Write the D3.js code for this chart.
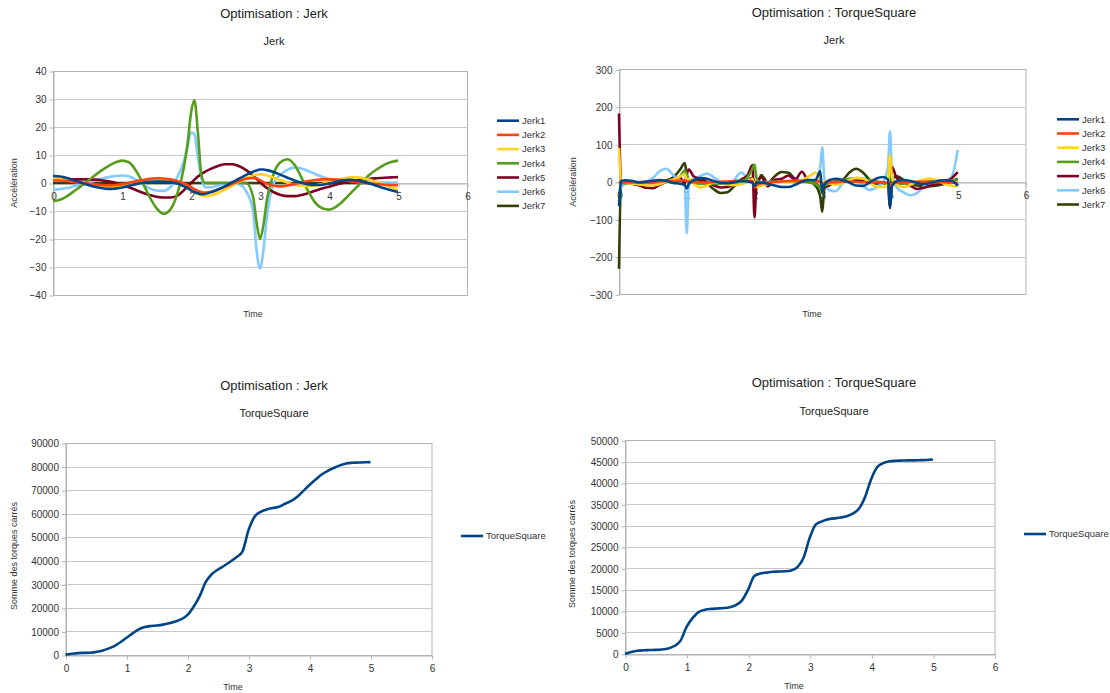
<!DOCTYPE html>
<html lang="fr">
<head>
<meta charset="UTF-8">
<title>Optimisation</title>
<style>
  html, body { margin:0; padding:0; background:#fff; }
  svg { display:block; font-family:"Liberation Sans", Arial, sans-serif; }
  .axis path, .axis line { stroke:#b3b3b3; }
  .axis text { fill:#333; font-size:10px; }
  .grid line { stroke:#c8c8c8; stroke-width:1; }
</style>
</head>
<body>
<script src="https://cdn.jsdelivr.net/npm/d3@7"></script>
<script>
var W = 1110, H = 693;

var seriesNames = ['Jerk1', 'Jerk2', 'Jerk3', 'Jerk4', 'Jerk5', 'Jerk6', 'Jerk7'];
var seriesColors = ['#004586', '#ff420e', '#ffd320', '#579d1c', '#7e0021', '#83caff', '#314004'];
var xTicks = [0, 1, 2, 3, 4, 5, 6];
var yTicksJerkA = [-40, -30, -20, -10, 0, 10, 20, 30, 40];
var yTicksJerkB = [-300, -200, -100, 0, 100, 200, 300];
var yTicksTorqueA = [0, 10000, 20000, 30000, 40000, 50000, 60000, 70000, 80000, 90000];
var yTicksTorqueB = [0, 5000, 10000, 15000, 20000, 25000, 30000, 35000, 40000, 45000, 50000];

// optimisation Jerk : jerk des 7 articulations
var timeA = [0, 0.1, 0.2, 0.3, 0.4, 0.5, 0.6, 0.7, 0.8, 0.9, 1.0, 1.1, 1.2, 1.3, 1.4, 1.5, 1.6, 1.7, 1.8, 1.9, 1.95,
  2.0, 2.05, 2.1, 2.15, 2.2, 2.3, 2.4, 2.5, 2.6, 2.7, 2.8, 2.9, 2.95, 3.0, 3.05, 3.1, 3.2, 3.3, 3.4, 3.5, 3.6,
  3.7, 3.8, 3.9, 4.0, 4.1, 4.2, 4.3, 4.4, 4.5, 4.6, 4.7, 4.8, 4.9, 5.0];
var jerkA1 = [2.5, 2.3, 1.8, 1.0, 0.2, -0.6, -1.3, -1.8, -2.1, -2.0, -1.6, -1.0, -0.4, 0.1, 0.4, 0.5, 0.5, 0.3, -0.2, -1.2, -1.8,
  -2.6, -3.2, -3.7, -4.0, -3.9, -3.2, -2.2, -1.0, 0.3, 1.6, 2.9, 4.0, 4.5, 4.8, 4.8, 4.6, 3.9, 2.9, 1.9, 0.9, 0.1,
  -0.5, -0.7, -0.6, -0.2, 0.4, 0.9, 1.1, 0.9, 0.4, -0.3, -1.1, -1.9, -2.6, -3.2];
var jerkA2 = [1.0, 0.9, 0.7, 0.4, 0.1, -0.2, -0.5, -0.7, -0.8, -0.7, -0.4, 0.1, 0.6, 1.1, 1.5, 1.7, 1.6, 1.3, 0.7, -0.2, -0.8,
  -1.5, -2.2, -2.8, -3.2, -3.4, -3.1, -2.3, -1.3, -0.3, 0.7, 1.5, 1.8, 1.6, 1.0, 0.3, -0.3, -1.0, -1.2, -0.9, -0.4, 0.2,
  0.7, 1.1, 1.3, 1.3, 1.2, 1.0, 0.7, 0.4, 0.1, -0.2, -0.4, -0.6, -0.7, -0.8];
var jerkA3 = [1.6, 1.4, 1.0, 0.5, 0.0, -0.5, -1.0, -1.3, -1.5, -1.4, -1.0, -0.4, 0.2, 0.7, 1.1, 1.2, 1.1, 0.7, 0.0, -1.0, -1.7,
  -2.5, -3.3, -4.0, -4.5, -4.7, -4.4, -3.5, -2.3, -0.9, 0.5, 1.8, 2.7, 3.0, 3.1, 3.0, 2.7, 1.9, 1.0, 0.1, -0.6, -1.0,
  -1.1, -0.9, -0.4, 0.3, 1.0, 1.6, 2.0, 2.0, 1.7, 1.1, 0.3, -0.6, -1.5, -2.4];
var jerkA4 = [-6.5, -6.0, -4.8, -3.0, -1.2, 0.7, 2.6, 4.4, 6.0, 7.3, 8.0, 7.4, 4.5, 0.0, -5.0, -9.0, -11.0, -9.5, -4.0, 6.0, 14.0,
  25.0, 29.5, 18.0, 3.0, 0, 0, 0, 0, 0, 0, 0, -5.0, -14.0, -20.0, -15.0, -6.0, 3.5, 7.5, 8.5, 6.5, 2.0,
  -3.0, -7.0, -9.0, -9.5, -8.5, -6.5, -4.0, -1.5, 1.0, 3.2, 5.0, 6.5, 7.5, 8.0];
var jerkA5 = [1.3, 1.3, 1.3, 1.3, 1.3, 1.3, 1.2, 1.0, 0.6, 0.1, -0.6, -1.5, -2.5, -3.5, -4.3, -4.9, -5.2, -5.2, -4.6, -2.5, -1.3,
  0.0, 1.2, 2.3, 3.2, 4.0, 5.2, 6.2, 6.7, 6.7, 6.0, 4.6, 2.6, 1.5, 0.3, -0.8, -1.8, -3.3, -4.3, -4.7, -4.7, -4.3,
  -3.6, -2.8, -2.0, -1.3, -0.6, 0.0, 0.5, 0.9, 1.2, 1.5, 1.7, 1.9, 2.0, 2.1];
var jerkA6 = [-2.5, -2.2, -1.8, -1.2, -0.6, 0.0, 0.8, 1.5, 2.1, 2.5, 2.7, 2.4, 1.2, -0.5, -1.9, -2.7, -2.8, -1.5, 2.0, 8.0, 13.0,
  18.0, 17.5, 9.0, 2.0, -1.5, -1.5, -0.8, -0.3, 0.0, -0.5, -3.0, -10.0, -24.0, -30.5, -24.0, -12.0, 0.0, 3.0, 4.8, 5.5, 5.2,
  4.3, 3.2, 2.2, 1.4, 0.9, 0.6, 0.5, 0.4, 0.3, 0.2, 0.1, 0.0, 0.0, 0.0];
var jerkA7 = [0, 0, 0, 0, 0, 0, 0, 0, 0, 0, 0, 0, 0, 0, 0, 0, 0, 0, 0, 0, 0,
  0, 0, 0, 0, 0, 0, 0, 0, 0, 0, 0, 0, 0, 0, 0, 0, 0, 0, 0, 0, 0,
  0, 0, 0, 0, 0, 0, 0, 0, 0, 0, 0, 0, 0, 0];

// optimisation TorqueSquare : jerk des 7 articulations
var timeB = [0, 0.03, 0.1, 0.2, 0.3, 0.4, 0.5, 0.6, 0.7, 0.8, 0.9, 0.97, 1.0, 1.03, 1.1, 1.2, 1.3, 1.4, 1.5, 1.6,
  1.7, 1.8, 1.9, 1.97, 2.0, 2.03, 2.1, 2.2, 2.3, 2.4, 2.5, 2.6, 2.7, 2.8, 2.9, 2.97, 3.0, 3.03, 3.1, 3.2,
  3.3, 3.4, 3.5, 3.6, 3.7, 3.8, 3.9, 3.97, 4.0, 4.03, 4.1, 4.2, 4.3, 4.4, 4.5, 4.6, 4.7, 4.8, 4.9, 5.0];
var jerkB1 = [-65, 2, 4, 2, -2, 0, 3, 5, 2, -3, -5, -8, -18, -5, 4, 10, 8, 2, -3, -4,
  -1, 2, 1, -2, -12, -3, -2, -5, -10, -14, -14, -8, 0, 5, 5, 28, -30, -8, 4, 8,
  5, -2, -10, -11, -2, 9, 13, 6, -67, -12, 2, 5, 2, -3, -6, -3, 2, 4, 3, -10];
var jerkB2 = [0, -3, -2, -2, -1, 0, 0, 1, 2, 2, 3, 4, 2, 0, -1, -2, -2, -1, 0, 1,
  2, 3, 3, 2, -15, -8, -4, -2, 0, 1, 2, 3, 3, 3, 2, 0, -8, -3, -2, -1,
  0, 0, 0, -1, -1, -1, -2, -3, -12, -4, -2, -1, 0, 0, 0, 0, -1, -1, -2, -3];
var jerkB3 = [90, 0, -3, -5, -7, -9, -10, -6, 0, 6, 14, 20, 5, 8, -5, -15, -10, -2, -3, -8,
  -9, -6, -1, 8, -8, -14, -10, -6, -2, 0, 1, 2, 5, 14, 24, 5, -20, 2, -4, -8,
  -3, 4, 11, 9, -2, -13, -14, -5, 72, 12, -8, -14, -8, 0, 6, 9, 3, -5, -10, -12];
var jerkB4 = [0, -2, -4, -5, -5, -4, -3, -2, 0, 4, 14, 30, 20, 2, -3, -5, -5, -5, -5, -5,
  -4, 0, 12, 35, 46, 10, -8, -3, 0, 1, 1, 1, 0, -2, -6, -18, -30, -12, -4, 0,
  4, 8, 10, 8, 4, 0, -4, -10, 18, 0, -5, -5, -3, -1, 0, 2, 3, 4, 4, 4];
var jerkB5 = [182, 0, -3, -6, -10, -16, -17, -8, 0, 6, 12, -5, 20, 33, 15, 8, 0, -10, -15, -14,
  -5, 6, 18, 45, -95, -5, 12, -12, 5, 8, 17, 6, 27, 0, -5, -15, -30, -15, -10, 0,
  3, 4, 3, 2, 1, 0, -2, -5, -70, 40, 10, 0, -10, -19, -16, -10, -6, -2, 8, 26];
var jerkB6 = [-22, -15, -5, 0, 0, 1, 10, 28, 35, 18, 0, -10, -138, -10, 4, 15, 22, 12, 0, -9,
  5, 25, 8, -5, -18, -5, 0, 0, 0, 0, 0, 0, 0, 0, -5, 40, 93, 10, -22, -25,
  -5, 6, 6, -10, -22, -15, 0, 40, 135, 20, -15, -28, -36, -30, -12, 0, 3, 4, 10, 85];
var jerkB7 = [-232, 0, 2, 0, -2, -2, 0, 2, 4, 12, 32, 50, 20, 5, 5, 3, -5, -20, -30, -28,
  -12, 0, 5, 10, 0, -15, 18, -2, 15, 26, 24, 8, 2, 0, -10, -40, -80, -20, 0, 0,
  5, 25, 35, 25, 5, -5, -3, -8, -10, 5, 15, 5, -5, -10, -12, -12, -10, -6, 0, 8];

// somme cumulée des couples au carré
var timeT = [0, 0.1, 0.2, 0.3, 0.4, 0.5, 0.6, 0.7, 0.8, 0.9, 1.0, 1.1, 1.2, 1.3, 1.4, 1.5, 1.6, 1.7, 1.8, 1.9,
  2.0, 2.1, 2.2, 2.3, 2.4, 2.5, 2.6, 2.7, 2.8, 2.9, 3.0, 3.1, 3.2, 3.3, 3.4, 3.5, 3.6, 3.7, 3.8, 3.9,
  4.0, 4.1, 4.2, 4.3, 4.4, 4.5, 4.6, 4.7, 4.8, 4.9, 5.0];
var torqueA = [200, 500, 800, 900, 950, 1300, 1800, 2700, 3800, 5400, 7300, 9200, 10900, 11900, 12300, 12500, 12900, 13500, 14200, 15200,
  17000, 20500, 25000, 31000, 34400, 36300, 37900, 39600, 41500, 43900, 53000, 58700, 60800, 61800, 62400, 62900, 64200, 65400, 67200, 69700,
  72200, 74500, 76600, 78200, 79400, 80500, 81300, 81600, 81700, 81800, 81900];
var torqueB = [0, 400, 700, 800, 850, 900, 1000, 1200, 1800, 3000, 6300, 8400, 9800, 10300, 10500, 10600, 10700, 10900, 11400, 12500,
  15000, 18200, 18800, 19000, 19200, 19250, 19300, 19500, 20300, 22500, 27200, 30300, 31000, 31500, 31700, 31900, 32200, 32800, 34000, 36800,
  41000, 43800, 44700, 45100, 45200, 45250, 45300, 45300, 45350, 45400, 45500];

var svg = d3.select('body').append('svg')
    .attr('width', W)
    .attr('height', H);

function zip(t, v) {
    return t.map(function(d, i) { return { x: d, y: v[i] }; });
}

function drawChart(o) {
    var g = svg.append('g');
    var x = d3.scaleLinear().domain([0, 6]).range([o.left, o.right]);
    var y = d3.scaleLinear()
        .domain([o.yTicks[0], o.yTicks[o.yTicks.length - 1]])
        .range([o.bottom, o.top]);

    // grille horizontale
    g.append('g').attr('class', 'grid')
        .selectAll('line')
        .data(o.yTicks)
        .enter()
        .append('line')
        .attr('x1', o.left).attr('x2', o.right)
        .attr('y1', function(d) { return Math.round(y(d)) + 0.5; })
        .attr('y2', function(d) { return Math.round(y(d)) + 0.5; });

    g.append('rect')
        .attr('x', o.left + 0.5).attr('y', Math.round(o.top) + 0.5)
        .attr('width', o.right - o.left).attr('height', Math.round(o.bottom) - Math.round(o.top))
        .attr('fill', 'none').attr('stroke', '#b3b3b3');

    g.append('g').attr('class', 'axis')
        .attr('transform', 'translate(' + (o.left + 0.5) + ',0.5)')
        .call(d3.axisLeft(y).tickValues(o.yTicks).tickSize(4).tickSizeOuter(0).tickPadding(3).tickFormat(d3.format('d')));

    g.append('g').attr('class', 'axis')
        .attr('transform', 'translate(0.5,' + (Math.round(y(0)) + 0.5) + ')')
        .call(d3.axisBottom(x).tickValues(xTicks).tickSize(4).tickSizeOuter(0).tickPadding(5).tickFormat(d3.format('d')));

    var line = d3.line()
        .x(function(d) { return x(d.x); })
        .y(function(d) { return y(d.y); })
        .curve(d3.curveMonotoneX);

    // dernière série dessinée en premier
    for (var i = o.series.length - 1; i >= 0; i--) {
        g.append('path')
            .attr('d', line(zip(o.time, o.series[i])))
            .attr('fill', 'none')
            .attr('stroke', o.colors[i])
            .attr('stroke-width', 2.6)
            .attr('stroke-linejoin', 'round');
    }

    // titres
    g.append('text').attr('x', o.cx).attr('y', o.titleY).attr('text-anchor', 'middle')
        .attr('font-size', 13).attr('fill', '#222').text(o.title);
    g.append('text').attr('x', o.cx).attr('y', o.subY).attr('text-anchor', 'middle')
        .attr('font-size', 11).attr('fill', '#222').text(o.subtitle);
    g.append('text').attr('x', o.timeX).attr('y', o.timeY).attr('text-anchor', 'middle')
        .attr('font-size', 9).attr('fill', '#333').text('Time');
    g.append('text')
        .attr('transform', 'translate(' + o.yTitleX + ',' + o.yTitleY + ') rotate(-90)')
        .attr('text-anchor', 'middle').attr('font-size', 9).attr('fill', '#333')
        .text(o.yTitle);

    // légende
    var lg = g.append('g').selectAll('g')
        .data(o.names)
        .enter()
        .append('g')
        .attr('transform', function(d, i) { return 'translate(' + o.legX + ',' + (o.legY + i * 14.2) + ')'; });
    lg.append('line')
        .attr('x1', 0).attr('x2', 22)
        .attr('stroke', function(d, i) { return o.colors[i]; })
        .attr('stroke-width', 2.6);
    lg.append('text')
        .attr('x', 25).attr('dy', '0.35em')
        .attr('font-size', 9.5).attr('fill', '#333')
        .text(function(d) { return d; });
}

drawChart({
    left: 53, right: 467, top: 71, bottom: 295,
    yTicks: yTicksJerkA, time: timeA,
    series: [jerkA1, jerkA2, jerkA3, jerkA4, jerkA5, jerkA6, jerkA7],
    names: seriesNames, colors: seriesColors,
    title: 'Optimisation : Jerk', subtitle: 'Jerk', cx: 274, titleY: 18, subY: 45,
    timeX: 253, timeY: 317, yTitle: 'Accélération', yTitleX: 17, yTitleY: 183,
    legX: 497, legY: 120.7
});

drawChart({
    left: 619, right: 1025.5, top: 69.3, bottom: 294.3,
    yTicks: yTicksJerkB, time: timeB,
    series: [jerkB1, jerkB2, jerkB3, jerkB4, jerkB5, jerkB6, jerkB7],
    names: seriesNames, colors: seriesColors,
    title: 'Optimisation : TorqueSquare', subtitle: 'Jerk', cx: 834, titleY: 17, subY: 44,
    timeX: 812, timeY: 317, yTitle: 'Accélération', yTitleX: 576, yTitleY: 182,
    legX: 1057, legY: 119.3
});

drawChart({
    left: 65.5, right: 431.5, top: 443, bottom: 655,
    yTicks: yTicksTorqueA, time: timeT,
    series: [torqueA],
    names: ['TorqueSquare'], colors: ['#004586'],
    title: 'Optimisation : Jerk', subtitle: 'TorqueSquare', cx: 274, titleY: 390, subY: 417,
    timeX: 233, timeY: 690, yTitle: 'Somme des torques carrés', yTitleX: 16.5, yTitleY: 556,
    legX: 461, legY: 536
});

drawChart({
    left: 625, right: 994.5, top: 440.3, bottom: 653.7,
    yTicks: yTicksTorqueB, time: timeT,
    series: [torqueB],
    names: ['TorqueSquare'], colors: ['#004586'],
    title: 'Optimisation : TorqueSquare', subtitle: 'TorqueSquare', cx: 834, titleY: 387, subY: 415,
    timeX: 794, timeY: 689, yTitle: 'Somme des torques carrés', yTitleX: 575, yTitleY: 554,
    legX: 1024, legY: 534
});
</script>
</body>
</html>
